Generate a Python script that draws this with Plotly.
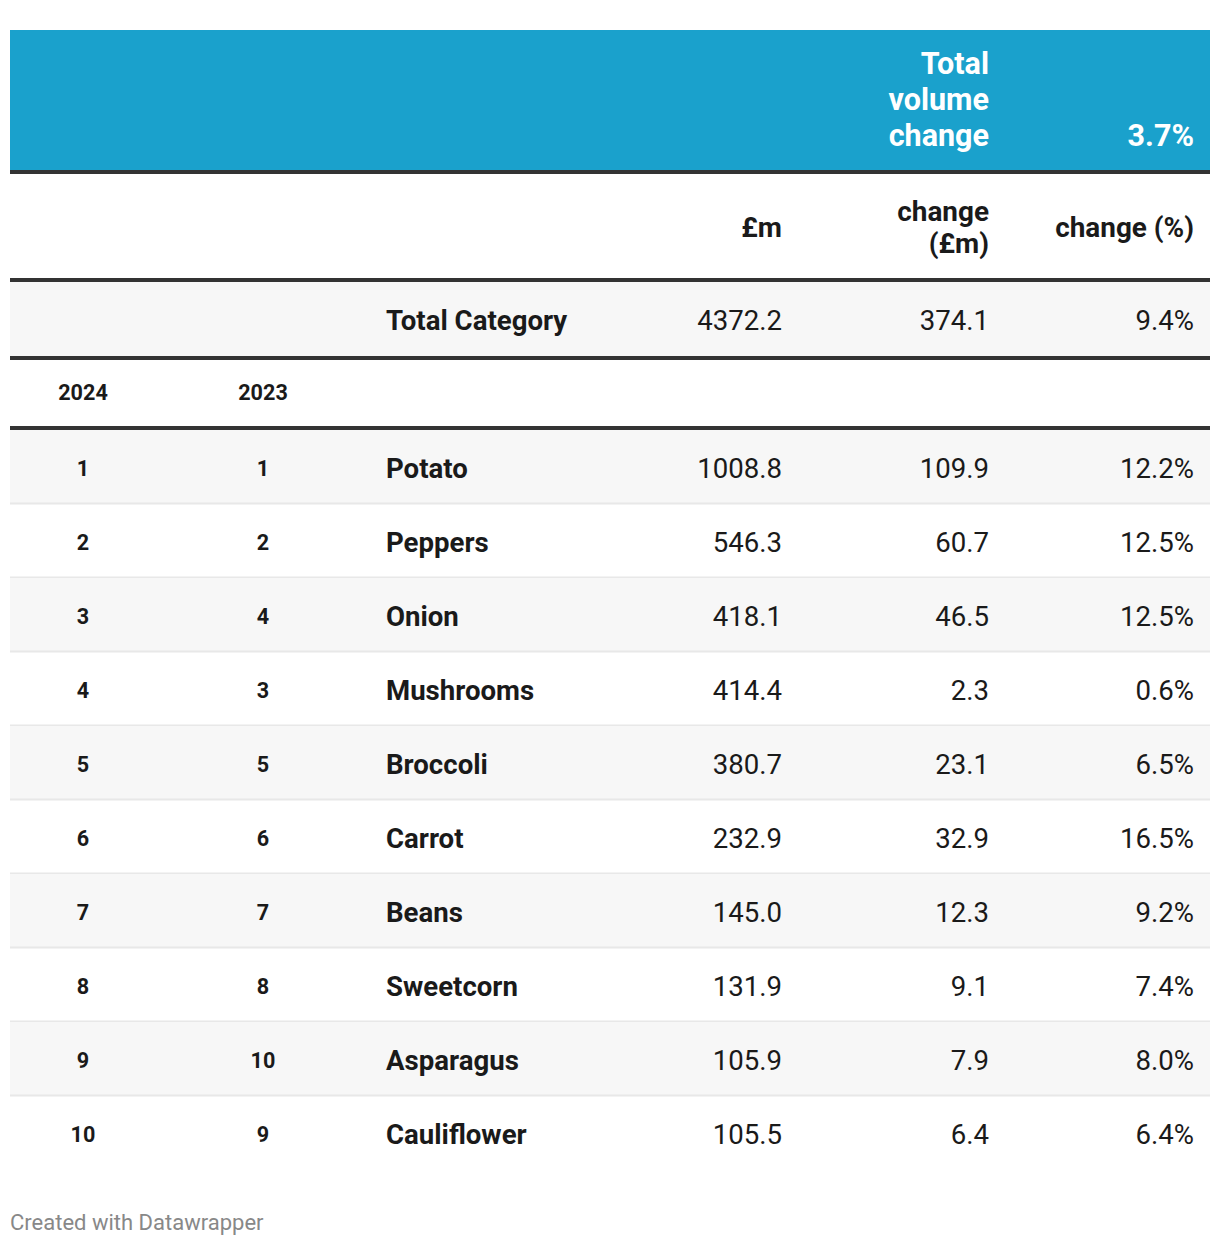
import plotly.graph_objects as go

# ---------------- data ----------------
rank_2024 = [1, 2, 3, 4, 5, 6, 7, 8, 9, 10]
rank_2023 = [1, 2, 4, 3, 5, 6, 7, 8, 10, 9]
products = ["Potato", "Peppers", "Onion", "Mushrooms", "Broccoli",
            "Carrot", "Beans", "Sweetcorn", "Asparagus", "Cauliflower"]
value_m = [1008.8, 546.3, 418.1, 414.4, 380.7, 232.9, 145.0, 131.9, 105.9, 105.5]
change_m = [109.9, 60.7, 46.5, 2.3, 23.1, 32.9, 12.3, 9.1, 7.9, 6.4]
change_pct = [12.2, 12.5, 12.5, 0.6, 6.5, 16.5, 9.2, 7.4, 8.0, 6.4]

total_label = "Total Category"
total_value = 4372.2
total_change = 374.1
total_change_pct = 9.4

volume_label = "Total<br>volume<br>change"
volume_change_pct = 3.7

col_headers = ["£m", "change<br>(£m)", "change (%)"]
rank_headers = ["2024", "2023"]
footer = "Created with Datawrapper"

# ---------------- layout constants ----------------
W, H = 1220, 1246
OFF = 8  # page body margin compensation
LEFT, RIGHT = 10, 1210
BLUE_TOP, BLUE_BOT = 30, 170
RULE_W = 4
HDR_TOP, HDR_BOT = 174, 278
TOT_TOP, TOT_BOT = 282, 356
SUB_TOP, SUB_BOT = 360, 426
DATA_TOP = 430
ROW_H = 74
DY = 4

X_R1, X_R2, X_NAME = 83, 263, 386
X_VAL, X_CHG, X_PCT = 782, 989, 1194

BLUE = "#1aa1cc"
DARK = "#333333"
STRIPE = "#f7f7f7"
SEP = "#e8e8e8"
TXT = "#1a1a1a"
FONT = "Roboto"

BODY = 27.6
RANK = 21.6
HDR = 27.9
BHDR = 30.5

fig = go.Figure()
shapes = []

def rect(x0, y0, x1, y1, color):
    shapes.append(dict(type="rect", xref="x", yref="y", x0=x0, x1=x1, y0=y0, y1=y1,
                       fillcolor=color, line=dict(width=0), layer="below"))

def hline(y, color, width):
    shapes.append(dict(type="line", xref="x", yref="y", x0=LEFT, x1=RIGHT, y0=y, y1=y,
                       line=dict(color=color, width=width), layer="below"))

# blue header band
rect(LEFT, BLUE_TOP, RIGHT, BLUE_BOT, BLUE)
# total row background
rect(LEFT, TOT_TOP, RIGHT, TOT_BOT, STRIPE)
# striped data rows
n = len(products)
for i in range(n):
    y0 = DATA_TOP + ROW_H * i
    if i % 2 == 0:
        rect(LEFT, y0, RIGHT, y0 + ROW_H, STRIPE)
    if i < n - 1:
        hline(y0 + ROW_H - 0.5, SEP, 2)
# dark rules
for yb in [BLUE_BOT, HDR_BOT, TOT_BOT, SUB_BOT]:
    hline(yb + RULE_W / 2, DARK, RULE_W)


def text_trace(xs, ys, texts, pos, size, color=TXT, weight="normal"):
    fig.add_trace(go.Scatter(
        x=xs, y=[y + DY for y in ys], text=texts, mode="text", textposition=pos,
        textfont=dict(family=FONT, size=size, color=color, weight=weight),
        hoverinfo="skip", showlegend=False, cliponaxis=False))


def multiline(x, yc, label, pos, size, line_h, color=TXT, weight="bold"):
    parts = label.split("<br>")
    k = len(parts)
    ys = [yc + (j - (k - 1) / 2) * line_h for j in range(k)]
    text_trace([x] * k, ys, parts, pos, size, color, weight)


# blue header
multiline(X_CHG, 99 - 1, volume_label, "middle left", BHDR, 36, "white", "bold")
text_trace([X_PCT], [135 - 1], [f"{volume_change_pct:.1f}%"], "middle left", BHDR, "white", "bold")

# column header
hdr_y = (HDR_TOP + HDR_BOT) / 2
for x, lab in zip([X_VAL, X_CHG, X_PCT], col_headers):
    multiline(x, hdr_y, lab, "middle left", HDR, 32)

# total row
tot_y = (TOT_TOP + TOT_BOT) / 2
text_trace([X_NAME], [tot_y], [total_label], "middle right", BODY, weight="bold")
text_trace([X_VAL, X_CHG, X_PCT], [tot_y] * 3,
           [f"{total_value:.1f}", f"{total_change:.1f}", f"{total_change_pct:.1f}%"],
           "middle left", BODY)

# rank sub-header
sub_y = (SUB_TOP + SUB_BOT) / 2
text_trace([X_R1, X_R2], [sub_y - 2] * 2, rank_headers, "middle center", RANK, weight="bold")

# data rows
ys = [DATA_TOP + ROW_H * (i + 0.5) for i in range(n)]
text_trace([X_R1] * n, ys, [str(v) for v in rank_2024], "middle center", RANK, weight="bold")
text_trace([X_R2] * n, ys, [str(v) for v in rank_2023], "middle center", RANK, weight="bold")
text_trace([X_NAME] * n, ys, products, "middle right", BODY, weight="bold")
text_trace([X_VAL] * n, ys, [f"{v:.1f}" for v in value_m], "middle left", BODY)
text_trace([X_CHG] * n, ys, [f"{v:.1f}" for v in change_m], "middle left", BODY)
text_trace([X_PCT] * n, ys, [f"{v:.1f}%" for v in change_pct], "middle left", BODY)

# footer
text_trace([LEFT], [1220], [footer], "middle right", 22, "#888888")

fig.update_layout(
    width=W, height=H,
    margin=dict(l=0, r=0, t=0, b=0),
    paper_bgcolor="white", plot_bgcolor="white",
    shapes=shapes,
    xaxis=dict(range=[OFF, W + OFF], visible=False, fixedrange=True),
    yaxis=dict(range=[H + OFF, OFF], visible=False, fixedrange=True),
    font=dict(family=FONT),
)

fig.write_html("out.html")
